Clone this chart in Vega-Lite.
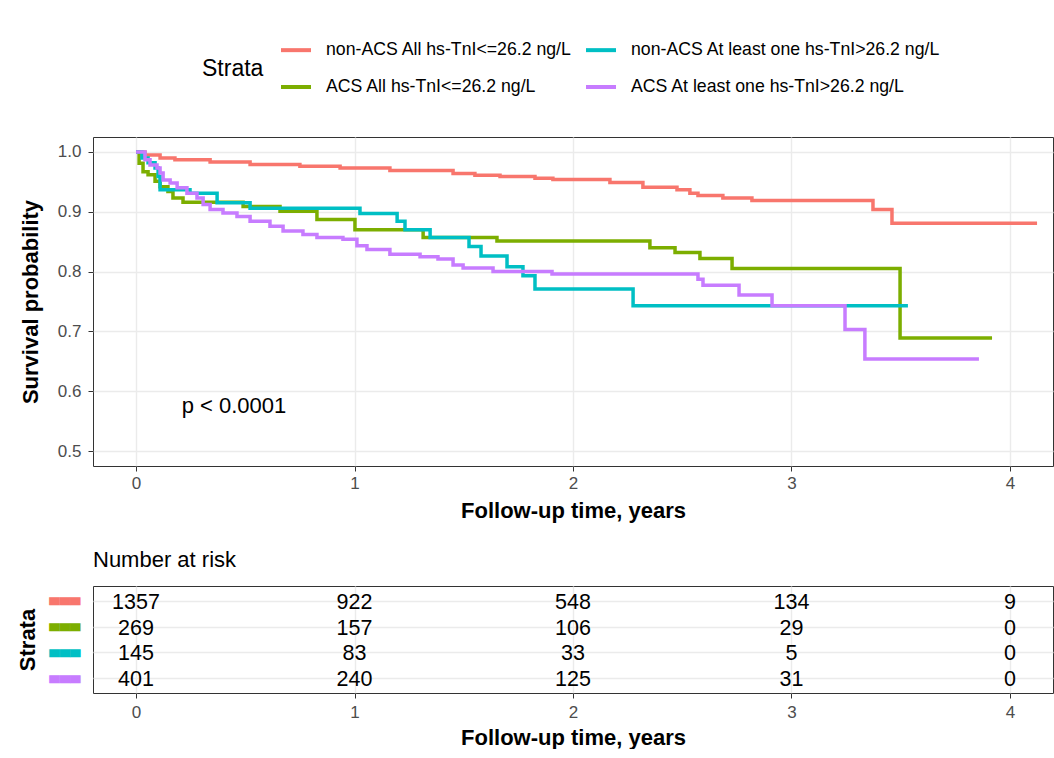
{
  "$schema": "https://vega.github.io/schema/vega-lite/v6.json",
  "background": "white",
  "padding": {"left": 16, "top": 33, "right": 0, "bottom": 0},
  "config": {
    "font": "Liberation Sans",
    "view": {"stroke": "#333333", "strokeWidth": 1},
    "axis": {"domain": false, "gridColor": "#EBEBEB", "tickColor": "#333333", "tickSize": 5, "labelColor": "#4D4D4D", "labelFontSize": 17, "titleFontSize": 22, "titleFontWeight": "bold", "titleColor": "black", "labelFont": "Liberation Sans", "titleFont": "Liberation Sans"},
    "concat": {"spacing": 26}
  },
  "datasets": {
    "km": [
      {"strata": "non-ACS All hs-TnI<=26.2 ng/L", "t": 0, "surv": 1.0},
      {"strata": "non-ACS All hs-TnI<=26.2 ng/L", "t": 0.041, "surv": 0.995},
      {"strata": "non-ACS All hs-TnI<=26.2 ng/L", "t": 0.11, "surv": 0.99},
      {"strata": "non-ACS All hs-TnI<=26.2 ng/L", "t": 0.178, "surv": 0.987},
      {"strata": "non-ACS All hs-TnI<=26.2 ng/L", "t": 0.339, "surv": 0.983},
      {"strata": "non-ACS All hs-TnI<=26.2 ng/L", "t": 0.522, "surv": 0.979},
      {"strata": "non-ACS All hs-TnI<=26.2 ng/L", "t": 0.75, "surv": 0.976},
      {"strata": "non-ACS All hs-TnI<=26.2 ng/L", "t": 0.934, "surv": 0.973},
      {"strata": "non-ACS All hs-TnI<=26.2 ng/L", "t": 1.162, "surv": 0.969},
      {"strata": "non-ACS All hs-TnI<=26.2 ng/L", "t": 1.451, "surv": 0.964},
      {"strata": "non-ACS All hs-TnI<=26.2 ng/L", "t": 1.551, "surv": 0.961},
      {"strata": "non-ACS All hs-TnI<=26.2 ng/L", "t": 1.666, "surv": 0.959},
      {"strata": "non-ACS All hs-TnI<=26.2 ng/L", "t": 1.826, "surv": 0.956},
      {"strata": "non-ACS All hs-TnI<=26.2 ng/L", "t": 1.908, "surv": 0.954},
      {"strata": "non-ACS All hs-TnI<=26.2 ng/L", "t": 2.169, "surv": 0.949},
      {"strata": "non-ACS All hs-TnI<=26.2 ng/L", "t": 2.32, "surv": 0.941},
      {"strata": "non-ACS All hs-TnI<=26.2 ng/L", "t": 2.476, "surv": 0.937},
      {"strata": "non-ACS All hs-TnI<=26.2 ng/L", "t": 2.535, "surv": 0.931},
      {"strata": "non-ACS All hs-TnI<=26.2 ng/L", "t": 2.572, "surv": 0.927},
      {"strata": "non-ACS All hs-TnI<=26.2 ng/L", "t": 2.686, "surv": 0.923},
      {"strata": "non-ACS All hs-TnI<=26.2 ng/L", "t": 2.819, "surv": 0.919},
      {"strata": "non-ACS All hs-TnI<=26.2 ng/L", "t": 3.373, "surv": 0.904},
      {"strata": "non-ACS All hs-TnI<=26.2 ng/L", "t": 3.46, "surv": 0.881},
      {"strata": "non-ACS All hs-TnI<=26.2 ng/L", "t": 4.124, "surv": 0.881},
      {"strata": "ACS All hs-TnI<=26.2 ng/L", "t": 0, "surv": 1.0},
      {"strata": "ACS All hs-TnI<=26.2 ng/L", "t": 0.014, "surv": 0.981},
      {"strata": "ACS All hs-TnI<=26.2 ng/L", "t": 0.032, "surv": 0.967},
      {"strata": "ACS All hs-TnI<=26.2 ng/L", "t": 0.055, "surv": 0.962},
      {"strata": "ACS All hs-TnI<=26.2 ng/L", "t": 0.087, "surv": 0.951},
      {"strata": "ACS All hs-TnI<=26.2 ng/L", "t": 0.11, "surv": 0.942},
      {"strata": "ACS All hs-TnI<=26.2 ng/L", "t": 0.146, "surv": 0.934},
      {"strata": "ACS All hs-TnI<=26.2 ng/L", "t": 0.169, "surv": 0.923},
      {"strata": "ACS All hs-TnI<=26.2 ng/L", "t": 0.215, "surv": 0.916},
      {"strata": "ACS All hs-TnI<=26.2 ng/L", "t": 0.49, "surv": 0.909},
      {"strata": "ACS All hs-TnI<=26.2 ng/L", "t": 0.659, "surv": 0.901},
      {"strata": "ACS All hs-TnI<=26.2 ng/L", "t": 0.828, "surv": 0.887},
      {"strata": "ACS All hs-TnI<=26.2 ng/L", "t": 1.002, "surv": 0.870},
      {"strata": "ACS All hs-TnI<=26.2 ng/L", "t": 1.314, "surv": 0.857},
      {"strata": "ACS All hs-TnI<=26.2 ng/L", "t": 1.652, "surv": 0.851},
      {"strata": "ACS All hs-TnI<=26.2 ng/L", "t": 2.352, "surv": 0.840},
      {"strata": "ACS All hs-TnI<=26.2 ng/L", "t": 2.467, "surv": 0.832},
      {"strata": "ACS All hs-TnI<=26.2 ng/L", "t": 2.581, "surv": 0.822},
      {"strata": "ACS All hs-TnI<=26.2 ng/L", "t": 2.728, "surv": 0.805},
      {"strata": "ACS All hs-TnI<=26.2 ng/L", "t": 3.497, "surv": 0.689},
      {"strata": "ACS All hs-TnI<=26.2 ng/L", "t": 3.918, "surv": 0.689},
      {"strata": "non-ACS At least one hs-TnI>26.2 ng/L", "t": 0, "surv": 1.0},
      {"strata": "non-ACS At least one hs-TnI>26.2 ng/L", "t": 0.027, "surv": 0.99},
      {"strata": "non-ACS At least one hs-TnI>26.2 ng/L", "t": 0.055, "surv": 0.982},
      {"strata": "non-ACS At least one hs-TnI>26.2 ng/L", "t": 0.087, "surv": 0.973},
      {"strata": "non-ACS At least one hs-TnI>26.2 ng/L", "t": 0.101, "surv": 0.959},
      {"strata": "non-ACS At least one hs-TnI>26.2 ng/L", "t": 0.11, "surv": 0.937},
      {"strata": "non-ACS At least one hs-TnI>26.2 ng/L", "t": 0.247, "surv": 0.931},
      {"strata": "non-ACS At least one hs-TnI>26.2 ng/L", "t": 0.371, "surv": 0.915},
      {"strata": "non-ACS At least one hs-TnI>26.2 ng/L", "t": 0.522, "surv": 0.906},
      {"strata": "non-ACS At least one hs-TnI>26.2 ng/L", "t": 1.025, "surv": 0.897},
      {"strata": "non-ACS At least one hs-TnI>26.2 ng/L", "t": 1.195, "surv": 0.884},
      {"strata": "non-ACS At least one hs-TnI>26.2 ng/L", "t": 1.231, "surv": 0.870},
      {"strata": "non-ACS At least one hs-TnI>26.2 ng/L", "t": 1.346, "surv": 0.857},
      {"strata": "non-ACS At least one hs-TnI>26.2 ng/L", "t": 1.524, "surv": 0.842},
      {"strata": "non-ACS At least one hs-TnI>26.2 ng/L", "t": 1.579, "surv": 0.826},
      {"strata": "non-ACS At least one hs-TnI>26.2 ng/L", "t": 1.698, "surv": 0.808},
      {"strata": "non-ACS At least one hs-TnI>26.2 ng/L", "t": 1.771, "surv": 0.793},
      {"strata": "non-ACS At least one hs-TnI>26.2 ng/L", "t": 1.826, "surv": 0.771},
      {"strata": "non-ACS At least one hs-TnI>26.2 ng/L", "t": 2.275, "surv": 0.743},
      {"strata": "non-ACS At least one hs-TnI>26.2 ng/L", "t": 3.533, "surv": 0.743},
      {"strata": "ACS At least one hs-TnI>26.2 ng/L", "t": 0, "surv": 1.0},
      {"strata": "ACS At least one hs-TnI>26.2 ng/L", "t": 0.041, "surv": 0.987},
      {"strata": "ACS At least one hs-TnI>26.2 ng/L", "t": 0.064, "surv": 0.978},
      {"strata": "ACS At least one hs-TnI>26.2 ng/L", "t": 0.096, "surv": 0.973},
      {"strata": "ACS At least one hs-TnI>26.2 ng/L", "t": 0.11, "surv": 0.965},
      {"strata": "ACS At least one hs-TnI>26.2 ng/L", "t": 0.124, "surv": 0.953},
      {"strata": "ACS At least one hs-TnI>26.2 ng/L", "t": 0.156, "surv": 0.948},
      {"strata": "ACS At least one hs-TnI>26.2 ng/L", "t": 0.188, "surv": 0.940},
      {"strata": "ACS At least one hs-TnI>26.2 ng/L", "t": 0.233, "surv": 0.931},
      {"strata": "ACS At least one hs-TnI>26.2 ng/L", "t": 0.279, "surv": 0.923},
      {"strata": "ACS At least one hs-TnI>26.2 ng/L", "t": 0.307, "surv": 0.912},
      {"strata": "ACS At least one hs-TnI>26.2 ng/L", "t": 0.339, "surv": 0.904},
      {"strata": "ACS At least one hs-TnI>26.2 ng/L", "t": 0.398, "surv": 0.898},
      {"strata": "ACS At least one hs-TnI>26.2 ng/L", "t": 0.462, "surv": 0.892},
      {"strata": "ACS At least one hs-TnI>26.2 ng/L", "t": 0.522, "surv": 0.884},
      {"strata": "ACS At least one hs-TnI>26.2 ng/L", "t": 0.613, "surv": 0.876},
      {"strata": "ACS At least one hs-TnI>26.2 ng/L", "t": 0.673, "surv": 0.868},
      {"strata": "ACS At least one hs-TnI>26.2 ng/L", "t": 0.764, "surv": 0.862},
      {"strata": "ACS At least one hs-TnI>26.2 ng/L", "t": 0.828, "surv": 0.857},
      {"strata": "ACS At least one hs-TnI>26.2 ng/L", "t": 0.947, "surv": 0.854},
      {"strata": "ACS At least one hs-TnI>26.2 ng/L", "t": 1.011, "surv": 0.843},
      {"strata": "ACS At least one hs-TnI>26.2 ng/L", "t": 1.057, "surv": 0.837},
      {"strata": "ACS At least one hs-TnI>26.2 ng/L", "t": 1.162, "surv": 0.829},
      {"strata": "ACS At least one hs-TnI>26.2 ng/L", "t": 1.3, "surv": 0.825},
      {"strata": "ACS At least one hs-TnI>26.2 ng/L", "t": 1.382, "surv": 0.821},
      {"strata": "ACS At least one hs-TnI>26.2 ng/L", "t": 1.451, "surv": 0.811},
      {"strata": "ACS At least one hs-TnI>26.2 ng/L", "t": 1.497, "surv": 0.806},
      {"strata": "ACS At least one hs-TnI>26.2 ng/L", "t": 1.634, "surv": 0.800},
      {"strata": "ACS At least one hs-TnI>26.2 ng/L", "t": 1.904, "surv": 0.796},
      {"strata": "ACS At least one hs-TnI>26.2 ng/L", "t": 2.572, "surv": 0.787},
      {"strata": "ACS At least one hs-TnI>26.2 ng/L", "t": 2.595, "surv": 0.777},
      {"strata": "ACS At least one hs-TnI>26.2 ng/L", "t": 2.76, "surv": 0.761},
      {"strata": "ACS At least one hs-TnI>26.2 ng/L", "t": 2.911, "surv": 0.743},
      {"strata": "ACS At least one hs-TnI>26.2 ng/L", "t": 3.245, "surv": 0.703},
      {"strata": "ACS At least one hs-TnI>26.2 ng/L", "t": 3.336, "surv": 0.654},
      {"strata": "ACS At least one hs-TnI>26.2 ng/L", "t": 3.858, "surv": 0.654}
    ],
    "pval": [{"t": 0.209, "surv": 0.575, "label": "p < 0.0001"}],
    "risk": [
      {"strata": "non-ACS All hs-TnI<=26.2 ng/L", "t": 0, "n": 1357},
      {"strata": "non-ACS All hs-TnI<=26.2 ng/L", "t": 1, "n": 922},
      {"strata": "non-ACS All hs-TnI<=26.2 ng/L", "t": 2, "n": 548},
      {"strata": "non-ACS All hs-TnI<=26.2 ng/L", "t": 3, "n": 134},
      {"strata": "non-ACS All hs-TnI<=26.2 ng/L", "t": 4, "n": 9},
      {"strata": "ACS All hs-TnI<=26.2 ng/L", "t": 0, "n": 269},
      {"strata": "ACS All hs-TnI<=26.2 ng/L", "t": 1, "n": 157},
      {"strata": "ACS All hs-TnI<=26.2 ng/L", "t": 2, "n": 106},
      {"strata": "ACS All hs-TnI<=26.2 ng/L", "t": 3, "n": 29},
      {"strata": "ACS All hs-TnI<=26.2 ng/L", "t": 4, "n": 0},
      {"strata": "non-ACS At least one hs-TnI>26.2 ng/L", "t": 0, "n": 145},
      {"strata": "non-ACS At least one hs-TnI>26.2 ng/L", "t": 1, "n": 83},
      {"strata": "non-ACS At least one hs-TnI>26.2 ng/L", "t": 2, "n": 33},
      {"strata": "non-ACS At least one hs-TnI>26.2 ng/L", "t": 3, "n": 5},
      {"strata": "non-ACS At least one hs-TnI>26.2 ng/L", "t": 4, "n": 0},
      {"strata": "ACS At least one hs-TnI>26.2 ng/L", "t": 0, "n": 401},
      {"strata": "ACS At least one hs-TnI>26.2 ng/L", "t": 1, "n": 240},
      {"strata": "ACS At least one hs-TnI>26.2 ng/L", "t": 2, "n": 125},
      {"strata": "ACS At least one hs-TnI>26.2 ng/L", "t": 3, "n": 31},
      {"strata": "ACS At least one hs-TnI>26.2 ng/L", "t": 4, "n": 0}
    ]
  },
  "vconcat": [
    {
      "width": 960,
      "height": 329,
      "layer": [
        {
          "data": {"name": "km"},
          "mark": {"type": "line", "interpolate": "step-after", "strokeWidth": 3.5},
          "encoding": {
            "x": {"field": "t", "type": "quantitative",
              "scale": {"domain": [-0.197, 4.197], "nice": false, "zero": false},
              "axis": {"title": "Follow-up time, years", "values": [0, 0.5, 1, 1.5, 2, 2.5, 3, 3.5, 4],
                "format": "d",
                "labelExpr": "round(datum.value*2) % 2 == 1 ? '' : datum.label",
                "tickOpacity": {"condition": {"test": "round(datum.value*2) % 2 == 1", "value": 0}, "value": 1},
                "gridWidth": {"condition": {"test": "round(datum.value*2) % 2 == 1", "value": 0.7}, "value": 1.4},
                "labelPadding": 4, "titlePadding": 9}},
            "y": {"field": "surv", "type": "quantitative",
              "scale": {"domain": [0.475, 1.025], "nice": false, "zero": false},
              "axis": {"title": "Survival probability", "values": [0.5, 0.55, 0.6, 0.65, 0.7, 0.75, 0.8, 0.85, 0.9, 0.95, 1.0],
                "format": ".1f",
                "labelExpr": "round(datum.value*20) % 2 == 1 ? '' : datum.label",
                "tickOpacity": {"condition": {"test": "round(datum.value*20) % 2 == 1", "value": 0}, "value": 1},
                "gridWidth": {"condition": {"test": "round(datum.value*20) % 2 == 1", "value": 0.7}, "value": 1.4},
                "labelPadding": 7, "titlePadding": 15}},
            "color": {"field": "strata", "type": "nominal",
              "scale": {"domain": ["non-ACS All hs-TnI<=26.2 ng/L", "non-ACS At least one hs-TnI>26.2 ng/L", "ACS All hs-TnI<=26.2 ng/L", "ACS At least one hs-TnI>26.2 ng/L"],
                "range": ["#F8766D", "#00BFC4", "#7CAE00", "#C77CFF"]},
              "legend": {"title": "Strata", "orient": "none", "legendX": 109, "legendY": -104, "direction": "horizontal", "columns": 2,
                "titleOrient": "left", "titleFontSize": 23, "titleFontWeight": "normal", "titleColor": "black", "titleAnchor": "middle", "titleBaseline": "line-top", "titleLineHeight": 10, "titlePadding": 15,
                "labelFontSize": 17.7, "labelColor": "black", "labelLimit": 400, "symbolType": "stroke", "symbolSize": 900, "symbolStrokeWidth": 4,
                "labelOffset": 13, "columnPadding": 6, "rowPadding": 11}}
          }
        },
        {
          "data": {"name": "pval"},
          "mark": {"type": "text", "align": "left", "baseline": "middle", "fontSize": 22, "color": "black"},
          "encoding": {
            "x": {"field": "t", "type": "quantitative"},
            "y": {"field": "surv", "type": "quantitative"},
            "text": {"field": "label"}
          }
        }
      ]
    },
    {
      "width": 960,
      "height": 107,
      "title": {"text": "Number at risk", "anchor": "start", "frame": "group", "fontSize": 22, "fontWeight": "normal", "color": "black", "offset": 14},
      "data": {"name": "risk"},
      "mark": {"type": "text", "fontSize": 21.5, "color": "black", "dy": 2},
      "encoding": {
        "x": {"field": "t", "type": "quantitative",
          "scale": {"domain": [-0.197, 4.197], "nice": false, "zero": false},
          "axis": {"title": "Follow-up time, years", "values": [0, 0.5, 1, 1.5, 2, 2.5, 3, 3.5, 4],
            "format": "d",
            "labelExpr": "round(datum.value*2) % 2 == 1 ? '' : datum.label",
            "tickOpacity": {"condition": {"test": "round(datum.value*2) % 2 == 1", "value": 0}, "value": 1},
            "gridWidth": {"condition": {"test": "round(datum.value*2) % 2 == 1", "value": 0.7}, "value": 1.4},
            "labelPadding": 6, "titlePadding": 7}},
        "y": {"field": "strata", "type": "ordinal",
          "scale": {"type": "point", "domain": ["non-ACS All hs-TnI<=26.2 ng/L", "ACS All hs-TnI<=26.2 ng/L", "non-ACS At least one hs-TnI>26.2 ng/L", "ACS At least one hs-TnI>26.2 ng/L"], "padding": 0.56},
          "axis": {"title": "Strata", "grid": true, "gridWidth": 1.4, "ticks": false, "labelPadding": 13,
            "labelExpr": "'▄▄▄'", "labelFont": "DejaVu Sans", "labelFontSize": 13.5, "labelOffset": -3,
            "labelColor": {"expr": "datum.value == 'non-ACS All hs-TnI<=26.2 ng/L' ? '#F8766D' : datum.value == 'ACS All hs-TnI<=26.2 ng/L' ? '#7CAE00' : datum.value == 'non-ACS At least one hs-TnI>26.2 ng/L' ? '#00BFC4' : '#C77CFF'"},
            "titlePadding": 9}},
        "text": {"field": "n", "type": "quantitative", "format": "d"}
      }
    }
  ]
}
